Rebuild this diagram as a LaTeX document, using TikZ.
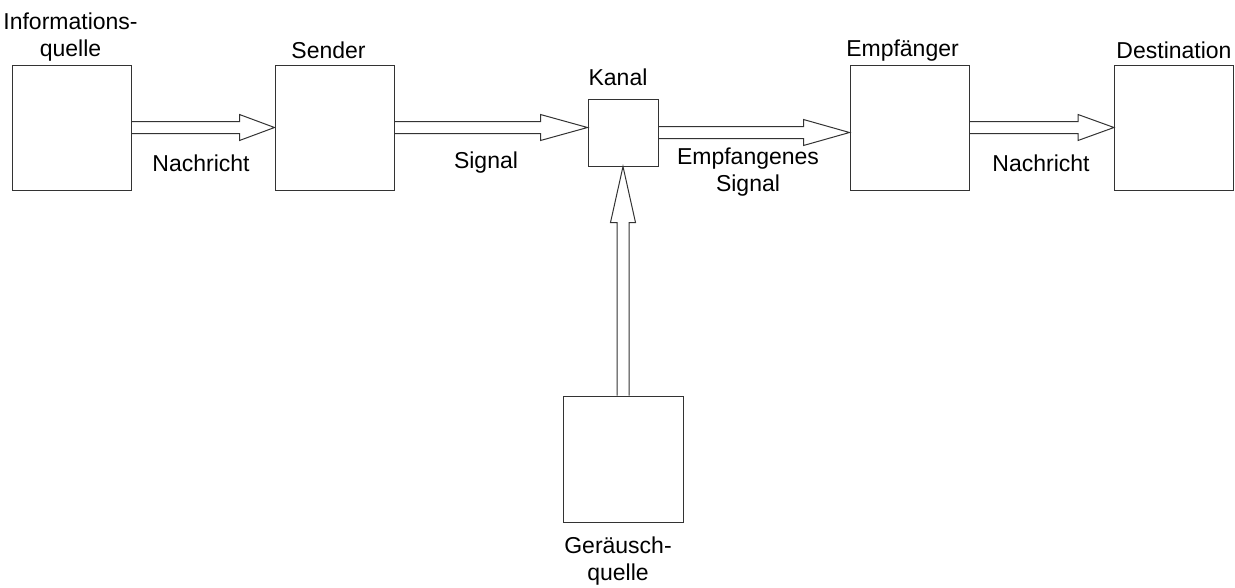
\documentclass[tikz,border=0pt]{standalone}
\usepackage{fontspec}
\setmainfont{Liberation Sans}
\usetikzlibrary{positioning,calc}

% hollow double-line arrows (open triangular head)
\newcommand{\hflow}[3]{%
  \draw[flow] let \p1=(#1), \p2=(#2) in
    (\x1,\y1+6pt) -- (\x2-#3,\y1+6pt) -- (\x2-#3,\y1+13pt) -- (\x2,\y1)
    -- (\x2-#3,\y1-13pt) -- (\x2-#3,\y1-6pt) -- (\x1,\y1-6pt);}
\newcommand{\vflow}[3]{%
  \draw[flow] let \p1=(#1), \p2=(#2) in
    (\x1-6pt,\y1) -- (\x1-6pt,\y2-#3) -- (\x1-12.5pt,\y2-#3) -- (\x1,\y2)
    -- (\x1+12.5pt,\y2-#3) -- (\x1+6pt,\y2-#3) -- (\x1+6pt,\y1);}

\begin{document}
\begin{tikzpicture}[x=1pt, y=-1pt,
    every node/.style={font=\fontsize{23}{27}\selectfont, align=center},
    block/.style={draw=black!80, line width=1pt, minimum width=119pt, minimum height=125pt, inner sep=0pt},
    flow/.style={draw=black!80, line width=1pt, line join=miter}]
    \useasboundingbox (0,0) rectangle (1235,587);

    \node[block] (source) at (71.5,127.5) {};
    \node[block] (sender) at (334.5,127.5) {};
    \node[block, minimum width=70pt, minimum height=67pt] (channel) at (623,132.5) {};
    \node[block] (receiver) at (909.5,127.5) {};
    \node[block] (dest) at (1174,127.5) {};
    \node[block, minimum width=120pt, minimum height=126pt] (noise) at (623,459) {};

    \node[above=0pt of source, xshift=-1pt] (sourcetxt) {Informations-\\quelle};
    \node[above=2pt of sender, xshift=-6pt] (sendertxt) {Sender};
    \node[above=9pt of channel, xshift=-5pt] (channeltxt) {Kanal};
    \node[above=0pt of receiver, xshift=-7pt] (receivertxt) {Empfänger};
    \node[above=2pt of dest] (desttxt) {Destination};
    \node[below=11pt of noise, xshift=-5pt] (noisetxt) {Geräusch-\\quelle};

    \hflow{source.east}{sender.west}{35pt}
    \hflow{sender.east}{channel.west}{47pt}
    \hflow{channel.east}{receiver.west}{46pt}
    \hflow{receiver.east}{dest.west}{36pt}
    \vflow{noise.north}{channel.south}{56pt}

    \node (msgin) at (201,163) {Nachricht};
    \node (signal) at (486,163) {Signal};
    \node (rxsignal) at (748,172) {Empfangenes\\Signal};
    \node (msgout) at (1041,163) {Nachricht};
\end{tikzpicture}
\end{document}
